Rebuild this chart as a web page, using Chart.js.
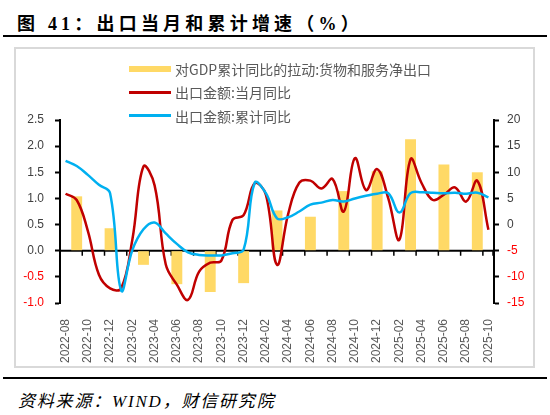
<!DOCTYPE html>
<html>
<head>
<meta charset="utf-8">
<script src="https://cdn.jsdelivr.net/npm/chart.js@4.4.1/dist/chart.umd.min.js"></script>
<style>
  body { margin: 0; width: 550px; height: 415px; background: #fff; position: relative; overflow: hidden; }
  #title { position: absolute; left: 17px; top: 9px; line-height: 20px; font: bold 18px "Liberation Serif", "Noto Sans CJK SC", serif; letter-spacing: 4.2px; color: #000; white-space: nowrap; }
  .rule { position: absolute; left: 3px; width: 544px; height: 2px; background: #000; }
  #frame { position: absolute; left: 14px; top: 47px; width: 517px; height: 317px; border: 2px solid #d9d9d9; }
  #box { position: relative; width: 517px; height: 317px; }
  #legend { position: absolute; left: 129px; top: 57px; font: 14px "Noto Sans CJK SC", sans-serif; color: #595959; }
  .item { height: 23.5px; display: flex; align-items: center; white-space: nowrap; }
  .swatch { width: 42px; margin-right: 4px; }
  #source { position: absolute; left: 18px; top: 387px; line-height: 20px; font: italic 17px "Liberation Serif", "Noto Sans CJK SC", serif; letter-spacing: 1.8px; color: #000; white-space: nowrap; }
</style>
</head>
<body>
<div id="title">图 41：出口当月和累计增速（%）</div>
<div class="rule" style="top:35px"></div>
<div id="frame"><div id="box"><canvas id="exportChart"></canvas></div></div>
<div id="legend"></div>
<div class="rule" style="top:377px"></div>
<div id="source">资料来源：WIND，财信研究院</div>

<script>
const months = [
  "2022-08","2022-09","2022-10","2022-11","2022-12",
  "2023-01","2023-02","2023-03","2023-04","2023-05","2023-06",
  "2023-07","2023-08","2023-09","2023-10","2023-11","2023-12",
  "2024-01","2024-02","2024-03","2024-04","2024-05","2024-06",
  "2024-07","2024-08","2024-09","2024-10","2024-11","2024-12",
  "2025-01","2025-02","2025-03","2025-04","2025-05","2025-06",
  "2025-07","2025-08","2025-09","2025-10"
];

// quarterly: contribution of net exports to GDP growth (left axis)
const quarterMonths = [
  "2022-09","2022-12","2023-03","2023-06","2023-09","2023-12",
  "2024-03","2024-06","2024-09","2024-12","2025-03","2025-06","2025-09"
];
const gdpPull = [1.04, 0.43, -0.27, -0.64, -0.79, -0.62, 0.77, 0.65, 1.14, 1.52, 2.13, 1.65, 1.5];

// monthly export growth, % (right axis)
const exportMonthly = [
  5.9, 4.7, -1.2, -9.6, -12.2,
  -12.2, -2.9, 11.1, 7.5, -7.6, -11.5,
  -14.4, -9.0, -7.3, -6.9, 0.9, 1.8,
  7.9, 5.7, -7.7, 2.0, 8.0, 8.4,
  6.9, 8.7, 2.5, 12.7, 6.6, 10.6,
  5.0, -2.9, 12.5, 7.9, 4.7, 5.7,
  7.1, 4.4, 8.4, -1.0
];
const exportYtd = [
  12.2, 11.2, 9.5, 7.6, 6.0,
  -12.6, -4.9, -0.9, 0.4, -1.7, -3.7,
  -5.3, -5.8, -5.9, -5.9, -5.5, -4.8,
  8.0, 6.0, 1.2, 1.4, 2.5, 3.8,
  4.2, 4.7, 4.4, 5.0, 5.5, 5.9,
  6.0, 2.3, 6.0, 6.2, 6.1, 6.0,
  6.1, 5.9, 6.1, 5.2
];

const barData = months.map(m => {
  const k = quarterMonths.indexOf(m);
  return k < 0 ? null : gdpPull[k];
});

// black zero line with the small month ticks hanging off it (Excel style)
const zeroAxis = {
  id: "zeroAxis",
  beforeDatasetsDraw(chart) {
    const { ctx, chartArea, scales } = chart;
    const y0 = scales.y.getPixelForValue(0);
    const half = (scales.x.getPixelForValue(1) - scales.x.getPixelForValue(0)) / 2;
    ctx.save();
    ctx.strokeStyle = "#000";
    ctx.lineWidth = 2;
    ctx.beginPath();
    ctx.moveTo(chartArea.left, y0);
    ctx.lineTo(chartArea.right, y0);
    ctx.stroke();
    ctx.lineWidth = 1.5;
    ctx.beginPath();
    for (let i = 2; i < months.length; i += 2) {
      const x = scales.x.getPixelForValue(i) - half;
      ctx.moveTo(x, y0);
      ctx.lineTo(x, y0 + 5);
    }
    ctx.moveTo(chartArea.right - 1, y0);
    ctx.lineTo(chartArea.right - 1, y0 + 5);
    ctx.stroke();
    ctx.restore();
  }
};

const tickFont = { family: "'Liberation Sans', Arial, sans-serif", size: 12 };
const negRed = c => (c.tick.value < 0 ? "#FF0000" : "#404040");

const chart = new Chart(document.getElementById("exportChart"), {
  type: "bar",
  data: {
    labels: months,
    datasets: [
      {
        type: "bar",
        label: "对GDP累计同比的拉动:货物和服务净出口",
        data: barData,
        backgroundColor: "#FFD966",
        barPercentage: 1,
        categoryPercentage: 0.98,
        yAxisID: "y",
        order: 3
      },
      {
        type: "line",
        label: "出口金额:当月同比",
        data: exportMonthly,
        borderColor: "#C00000",
        borderWidth: 2.5,
        pointRadius: 0,
        tension: 0.4,
        yAxisID: "y1",
        order: 2
      },
      {
        type: "line",
        label: "出口金额:累计同比",
        data: exportYtd,
        borderColor: "#00B0F0",
        borderWidth: 2.5,
        pointRadius: 0,
        tension: 0.4,
        yAxisID: "y1",
        order: 1
      }
    ]
  },
  options: {
    responsive: true,
    maintainAspectRatio: false,
    animation: false,
    layout: { padding: { top: 71, left: 0, right: 0, bottom: 0 } },
    plugins: { legend: { display: false }, tooltip: { enabled: false } },
    scales: {
      x: {
        offset: true,
        grid: { display: false },
        border: { display: false },
        ticks: {
          autoSkip: false,
          minRotation: 90,
          maxRotation: 90,
          padding: 8,
          color: "#595959",
          font: tickFont,
          callback: (v, i) => (i % 2 === 0 ? months[i] : "")
        },
        afterFit: s => { s.height = 63; }
      },
      y: {
        position: "left",
        min: -1,
        max: 2.5,
        ticks: { stepSize: 0.5, padding: 11, color: negRed, font: tickFont, callback: v => v.toFixed(1) },
        grid: { drawOnChartArea: false, tickLength: 5, tickColor: "#000", tickWidth: 2 },
        border: { color: "#000", width: 2 },
        afterFit: s => { s.width = 44; }
      },
      y1: {
        position: "right",
        min: -15,
        max: 20,
        ticks: { stepSize: 5, padding: 8, color: negRed, font: tickFont },
        grid: { drawOnChartArea: false, tickLength: 5, tickColor: "#000", tickWidth: 2 },
        border: { color: "#000", width: 2 },
        afterFit: s => { s.width = 39; }
      }
    }
  },
  plugins: [zeroAxis]
});

// legend stacked one entry per row, as in the original
const legendBox = document.getElementById("legend");
chart.data.datasets.forEach(ds => {
  const row = document.createElement("div");
  row.className = "item";
  const sw = document.createElement("span");
  sw.className = "swatch";
  if (ds.type === "bar") {
    sw.style.height = "6px";
    sw.style.background = ds.backgroundColor;
  } else {
    sw.style.height = "3px";
    sw.style.background = ds.borderColor;
  }
  const txt = document.createElement("span");
  txt.textContent = ds.label;
  row.appendChild(sw);
  row.appendChild(txt);
  legendBox.appendChild(row);
});
</script>
</body>
</html>
